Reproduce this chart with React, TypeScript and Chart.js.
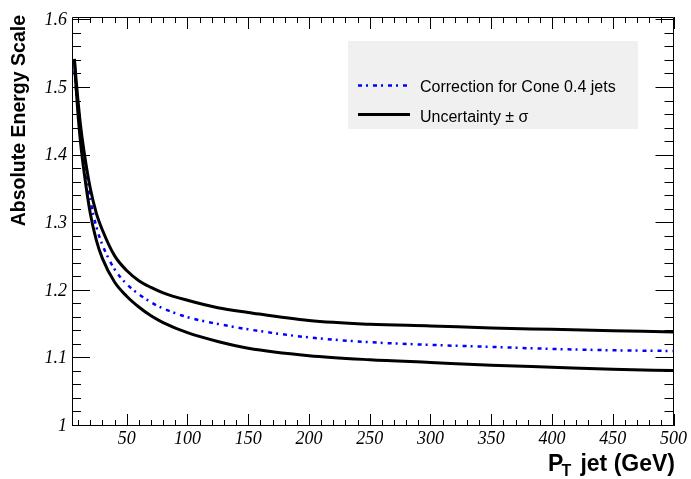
import React, { useEffect, useRef } from 'react';
import { Chart, registerables } from 'chart.js';

Chart.register(...registerables);

// ---- data ----
const ptValues = [7, 8, 9, 10, 12, 15, 20, 25, 30, 40, 50, 60, 70, 80, 100, 125, 150, 200, 250, 300, 350, 400, 450, 500];
const correction = [1.525, 1.505, 1.485, 1.465, 1.43, 1.39, 1.335, 1.295, 1.268, 1.232, 1.21, 1.195, 1.183, 1.174, 1.161, 1.151, 1.143, 1.131, 1.124, 1.12, 1.117, 1.114, 1.112, 1.111];
const upperBand = [1.543, 1.52, 1.5, 1.48, 1.445, 1.405, 1.352, 1.315, 1.29, 1.252, 1.23, 1.215, 1.205, 1.197, 1.186, 1.175, 1.168, 1.156, 1.1505, 1.148, 1.145, 1.143, 1.141, 1.139];
const lowerBand = [1.54, 1.51, 1.485, 1.46, 1.42, 1.375, 1.315, 1.275, 1.248, 1.213, 1.192, 1.176, 1.163, 1.153, 1.138, 1.125, 1.115, 1.104, 1.098, 1.094, 1.09, 1.087, 1.084, 1.082];

const xTickValues = [50, 100, 150, 200, 250, 300, 350, 400, 450, 500];
const yTickValues = [1, 1.1, 1.2, 1.3, 1.4, 1.5, 1.6];
const xMinorStep = 10;
const yMinorStep = 0.02;

const legendLabels = ['Correction for Cone 0.4 jets', 'Uncertainty \u00b1 \u03c3'];
const yTitle = 'Absolute Energy Scale';
const xTitleMain = 'P';
const xTitleSub = 'T';
const xTitleRest = 'jet (GeV)';

const X_MIN = 5;
const X_MAX = 500;
const Y_MIN = 1;
const Y_MAX = 1.605;

const framePlugin = {
  id: 'rootFrame',
  beforeDatasetsDraw(chart: any) {
    const { ctx, chartArea: a, scales } = chart;
    const xs = scales.x;
    const ys = scales.y;
    ctx.save();
    ctx.strokeStyle = '#000';
    ctx.lineWidth = 1;
    ctx.beginPath();
    ctx.rect(Math.round(a.left) + 0.5, Math.round(a.top) + 0.5, Math.round(a.right - a.left) - 1, Math.round(a.bottom - a.top) - 1);
    ctx.stroke();
    ctx.beginPath();
    // x ticks (bottom & top)
    for (let v = xMinorStep; v <= X_MAX + 1e-6; v += xMinorStep) {
      if (v < X_MIN) continue;
      const major = Math.abs(v % 50) < 1e-6;
      const len = major ? 12 : 6;
      const px = Math.round(xs.getPixelForValue(v)) + 0.5;
      ctx.moveTo(px, a.bottom);
      ctx.lineTo(px, a.bottom - len);
      ctx.moveTo(px, a.top);
      ctx.lineTo(px, a.top + len);
    }
    // y ticks (left & right)
    for (let i = 0; Y_MIN + i * yMinorStep <= Y_MAX + 1e-9; i++) {
      const v = Y_MIN + i * yMinorStep;
      const major = i % 5 === 0;
      const len = major ? 18 : 9;
      const py = Math.round(ys.getPixelForValue(v)) - 0.5;
      ctx.moveTo(a.left, py);
      ctx.lineTo(a.left + len, py);
      ctx.moveTo(a.right, py);
      ctx.lineTo(a.right - len, py);
    }
    ctx.stroke();
    ctx.restore();
  },
  afterDraw(chart: any) {
    const { ctx } = chart;
    const ds = chart.data.datasets;
    ctx.save();
    // legend box
    ctx.fillStyle = '#f0f0f0';
    ctx.fillRect(348, 41, 290, 88);
    // entry 1
    ctx.strokeStyle = ds[2].borderColor;
    ctx.lineWidth = ds[2].borderWidth;
    ctx.setLineDash(ds[2].borderDash);
    ctx.beginPath();
    ctx.moveTo(358, 85.5);
    ctx.lineTo(410, 85.5);
    ctx.stroke();
    // entry 2
    ctx.setLineDash([]);
    ctx.strokeStyle = ds[0].borderColor;
    ctx.lineWidth = ds[0].borderWidth;
    ctx.beginPath();
    ctx.moveTo(358, 114.5);
    ctx.lineTo(410, 114.5);
    ctx.stroke();
    ctx.fillStyle = '#000';
    ctx.font = '16px "Liberation Sans", Arial, sans-serif';
    ctx.textAlign = 'left';
    ctx.textBaseline = 'alphabetic';
    ctx.fillText(legendLabels[0], 420, 92);
    ctx.fillText(legendLabels[1], 420, 121.5);

    // x title
    ctx.font = 'bold 23px "Liberation Sans", Arial, sans-serif';
    ctx.textAlign = 'right';
    ctx.fillText(xTitleRest, 675, 471);
    ctx.textAlign = 'left';
    ctx.fillText(xTitleMain, 548, 471);
    ctx.font = 'bold 16px "Liberation Sans", Arial, sans-serif';
    ctx.fillText(xTitleSub, 561.5, 475.5);

    // y title
    ctx.translate(25, 15);
    ctx.rotate(-Math.PI / 2);
    ctx.font = 'bold 19.5px "Liberation Sans", Arial, sans-serif';
    ctx.textAlign = 'right';
    ctx.fillText(yTitle, 0, 0);
    ctx.restore();
  },
};

export default function App() {
  const ref = useRef<HTMLCanvasElement | null>(null);
  useEffect(() => {
    document.body.style.margin = '0';
    const canvas = ref.current;
    if (!canvas) return;
    const common = { pointRadius: 0, fill: false, cubicInterpolationMode: 'monotone' as const };
    const chart = new Chart(canvas, {
      type: 'line',
      data: {
        datasets: [
          { label: 'upper', data: ptValues.map((x, i) => ({ x, y: upperBand[i] })), borderColor: '#000000', borderWidth: 3, ...common },
          { label: 'lower', data: ptValues.map((x, i) => ({ x, y: lowerBand[i] })), borderColor: '#000000', borderWidth: 3, ...common },
          { label: 'correction', data: ptValues.map((x, i) => ({ x, y: correction[i] })), borderColor: '#0000ff', borderWidth: 2.5, borderDash: [4, 4, 2, 5], ...common },
        ],
      } as any,
      options: {
        responsive: false,
        animation: false,
        devicePixelRatio: 1,
        layout: { padding: { left: 0, top: 17, right: 14, bottom: 0 } },
        plugins: { legend: { display: false }, tooltip: { enabled: false } },
        scales: {
          x: {
            type: 'linear',
            min: X_MIN,
            max: X_MAX,
            afterBuildTicks: (s: any) => { s.ticks = xTickValues.map((v) => ({ value: v })); },
            afterFit: (s: any) => { s.height = 53; },
            grid: { display: false, drawTicks: false },
            border: { display: false },
            ticks: {
              padding: 4,
              autoSkip: false,
              maxRotation: 0,
              color: '#000',
              font: { family: '"Liberation Serif", "Times New Roman", serif', style: 'italic', size: 18, lineHeight: 1 },
              callback: (v: any) => String(v),
            },
          },
          y: {
            type: 'linear',
            min: Y_MIN,
            max: Y_MAX,
            afterBuildTicks: (s: any) => { s.ticks = yTickValues.map((v) => ({ value: v })); },
            afterFit: (s: any) => { s.width = 72; },
            grid: { display: false, drawTicks: false },
            border: { display: false },
            ticks: {
              padding: 5,
              color: '#000',
              font: { family: '"Liberation Serif", "Times New Roman", serif', style: 'italic', size: 18, lineHeight: 1 },
              callback: (v: any) => (Math.abs(v - 1) < 1e-9 ? '1' : Number(v).toFixed(1)),
            },
          },
        },
      } as any,
      plugins: [framePlugin],
    });
    return () => chart.destroy();
  }, []);
  return (
    <div style={{ position: 'absolute', left: 0, top: 0, width: 691, height: 479, background: '#fff' }}>
      <canvas ref={ref} width={691} height={479} style={{ display: 'block' }} />
    </div>
  );
}
